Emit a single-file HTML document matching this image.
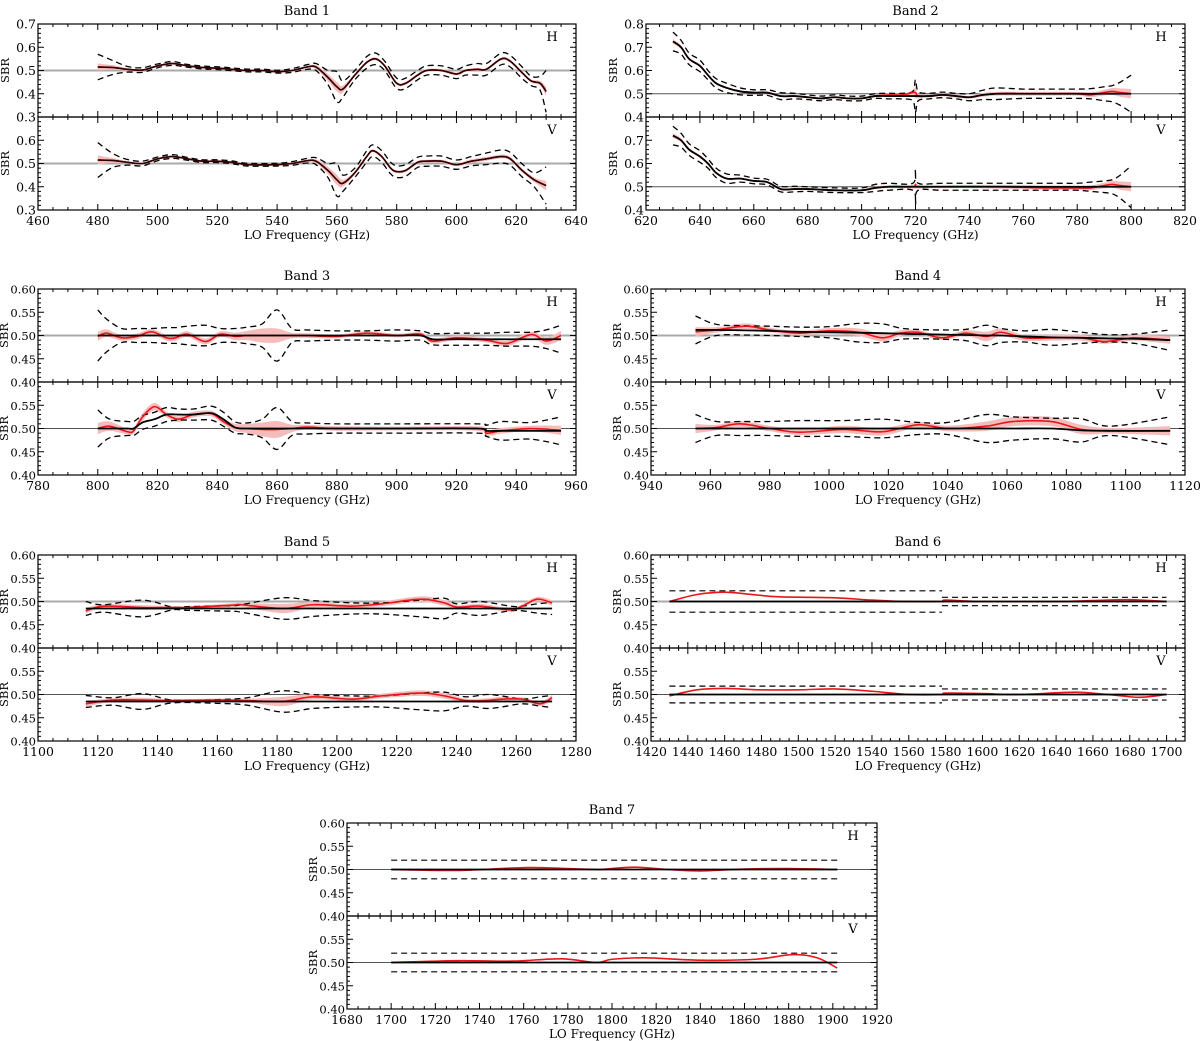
<!DOCTYPE html>
<html><head><meta charset="utf-8"><style>
html,body{margin:0;padding:0;background:#fff;}
svg{display:block;font-family:"DejaVu Serif","Liberation Serif",serif;}
</style></head><body>
<svg id="fig" width="1200" height="1041" viewBox="0 0 1200 1041" xmlns="http://www.w3.org/2000/svg"></svg>
<script>
// ---- Data (frequencies in GHz, SBR values) ----
const b1H_x=[480,485,490,495,500,505,510,515,520,525,530,535,540,545,550,553,557,560,562,566,570,573,576,580,583,587,590,595,600,603,607,610,615,618,622,625,628,630];
const b1H_k=[0.515,0.513,0.505,0.502,0.52,0.53,0.52,0.513,0.51,0.505,0.50,0.50,0.495,0.50,0.515,0.515,0.47,0.43,0.42,0.48,0.535,0.55,0.52,0.445,0.445,0.48,0.50,0.50,0.485,0.50,0.505,0.505,0.55,0.54,0.49,0.455,0.445,0.41];
const b1H_e=[0.055,0.03,0.012,0.01,0.008,0.008,0.006,0.006,0.006,0.006,0.006,0.006,0.006,0.008,0.01,0.015,0.03,0.065,0.035,0.02,0.025,0.025,0.02,0.022,0.022,0.02,0.02,0.02,0.02,0.02,0.025,0.025,0.025,0.025,0.025,0.02,0.03,0.09];
const b1H_s=[0.015,0.01,0.005,0.004,0.004,0.004,0.003,0.003,0.003,0.003,0.003,0.003,0.003,0.004,0.005,0.008,0.015,0.02,0.015,0.006,0.006,0.006,0.006,0.006,0.006,0.006,0.006,0.006,0.006,0.006,0.006,0.006,0.006,0.006,0.006,0.006,0.01,0.02];
const b1V_x=[480,485,490,495,500,505,510,515,520,525,530,540,545,550,553,557,560,562,566,570,572,575,578,580,583,587,590,595,600,605,610,615,618,622,626,630];
const b1V_k=[0.515,0.513,0.505,0.50,0.52,0.53,0.52,0.51,0.51,0.505,0.495,0.495,0.50,0.512,0.51,0.47,0.43,0.415,0.46,0.53,0.555,0.53,0.48,0.465,0.47,0.505,0.51,0.51,0.495,0.51,0.52,0.53,0.52,0.47,0.43,0.405];
const b1V_e=[0.075,0.03,0.012,0.01,0.008,0.008,0.006,0.006,0.006,0.006,0.006,0.006,0.008,0.01,0.015,0.03,0.07,0.035,0.02,0.025,0.025,0.025,0.025,0.025,0.025,0.022,0.022,0.022,0.02,0.02,0.025,0.028,0.028,0.028,0.03,0.08];
const b1V_s=[0.02,0.01,0.005,0.004,0.004,0.004,0.003,0.003,0.003,0.003,0.003,0.003,0.004,0.005,0.008,0.015,0.022,0.015,0.006,0.006,0.006,0.006,0.006,0.006,0.006,0.006,0.006,0.006,0.006,0.008,0.008,0.008,0.008,0.008,0.01,0.02];

const b2H_x=[630,633,636,640,643,646,650,655,660,665,670,675,680,685,690,695,700,705,710,715,719,720,721,725,730,735,740,745,750,760,770,780,785,790,793,796,800];
const b2H_k=[0.725,0.70,0.65,0.62,0.58,0.545,0.525,0.51,0.505,0.505,0.49,0.49,0.485,0.48,0.485,0.48,0.48,0.49,0.49,0.49,0.49,0.49,0.49,0.49,0.495,0.49,0.485,0.495,0.50,0.50,0.50,0.50,0.50,0.50,0.50,0.50,0.50];
const b2H_r=[0.725,0.70,0.65,0.62,0.58,0.545,0.525,0.51,0.505,0.505,0.49,0.49,0.485,0.48,0.485,0.48,0.48,0.49,0.495,0.495,0.505,0.505,0.49,0.49,0.495,0.49,0.485,0.495,0.50,0.50,0.50,0.50,0.495,0.505,0.51,0.505,0.50];
const b2H_e=[0.04,0.03,0.025,0.025,0.02,0.02,0.02,0.015,0.012,0.012,0.015,0.012,0.01,0.01,0.01,0.01,0.01,0.01,0.012,0.012,0.02,0.07,0.02,0.012,0.012,0.012,0.015,0.02,0.025,0.02,0.02,0.02,0.022,0.03,0.035,0.05,0.08];
const b2H_s=[0.01,0.008,0.006,0.006,0.005,0.005,0.004,0.004,0.004,0.004,0.004,0.004,0.004,0.004,0.004,0.004,0.004,0.005,0.006,0.006,0.01,0.025,0.01,0.006,0.006,0.006,0.006,0.008,0.008,0.008,0.008,0.008,0.01,0.012,0.015,0.018,0.02];
const b2V_x=[630,633,636,640,643,646,650,655,660,665,670,675,680,690,700,705,710,719,720,721,730,750,770,780,785,790,793,796,800];
const b2V_k=[0.72,0.70,0.66,0.63,0.60,0.56,0.535,0.535,0.525,0.52,0.49,0.49,0.49,0.485,0.485,0.495,0.50,0.50,0.50,0.50,0.50,0.50,0.50,0.50,0.50,0.50,0.50,0.50,0.50];
const b2V_r=[0.72,0.70,0.66,0.63,0.60,0.56,0.535,0.535,0.525,0.52,0.49,0.49,0.49,0.485,0.485,0.495,0.50,0.50,0.51,0.50,0.50,0.50,0.495,0.495,0.495,0.505,0.51,0.505,0.50];
const b2V_e=[0.04,0.03,0.025,0.025,0.02,0.02,0.02,0.015,0.012,0.012,0.012,0.012,0.01,0.01,0.01,0.015,0.015,0.015,0.075,0.015,0.015,0.015,0.015,0.015,0.02,0.025,0.03,0.05,0.09];
const b2V_s=[0.01,0.008,0.006,0.006,0.005,0.005,0.004,0.004,0.004,0.004,0.004,0.004,0.004,0.004,0.004,0.005,0.006,0.008,0.02,0.008,0.006,0.008,0.008,0.008,0.01,0.012,0.015,0.018,0.02];

const b3H_x=[800,803,808,813,818,823,826,830,836,841,846,850,855,860,865,870,880,890,900,908,912,920,930,937,945,950,955];
const b3H_k=[0.50,0.50,0.50,0.50,0.50,0.50,0.50,0.50,0.50,0.50,0.50,0.50,0.50,0.50,0.50,0.50,0.50,0.50,0.50,0.50,0.492,0.492,0.492,0.492,0.492,0.492,0.492];
const b3H_r=[0.498,0.505,0.495,0.498,0.508,0.495,0.495,0.503,0.487,0.503,0.498,0.50,0.50,0.50,0.50,0.50,0.498,0.505,0.50,0.503,0.488,0.495,0.49,0.483,0.502,0.488,0.50];
const b3H_e=[0.055,0.035,0.015,0.015,0.015,0.017,0.017,0.02,0.022,0.015,0.015,0.018,0.025,0.055,0.015,0.012,0.01,0.01,0.012,0.01,0.012,0.013,0.013,0.015,0.015,0.02,0.03];
const b3H_s=[0.01,0.008,0.006,0.006,0.006,0.006,0.006,0.006,0.006,0.006,0.008,0.01,0.015,0.015,0.006,0.005,0.004,0.004,0.004,0.004,0.005,0.005,0.005,0.006,0.006,0.008,0.01];
const b3V_x=[800,804,810,812,815,819,823,827,832,838,842,846,850,855,860,865,870,880,900,927,930,935,945,955];
const b3V_k=[0.50,0.50,0.50,0.50,0.513,0.52,0.53,0.53,0.53,0.533,0.52,0.502,0.50,0.50,0.50,0.50,0.50,0.50,0.50,0.50,0.495,0.495,0.495,0.495];
const b3V_r=[0.50,0.505,0.493,0.495,0.525,0.547,0.53,0.52,0.53,0.532,0.515,0.502,0.50,0.498,0.498,0.50,0.503,0.50,0.50,0.50,0.49,0.495,0.50,0.496];
const b3V_e=[0.04,0.02,0.015,0.015,0.015,0.015,0.015,0.012,0.012,0.015,0.015,0.012,0.012,0.02,0.045,0.015,0.012,0.01,0.01,0.01,0.012,0.02,0.018,0.03];
const b3V_s=[0.012,0.01,0.006,0.006,0.008,0.008,0.006,0.006,0.006,0.006,0.006,0.008,0.01,0.015,0.018,0.008,0.005,0.005,0.004,0.005,0.006,0.006,0.006,0.01];

const b4H_x=[955,962,972,980,990,1000,1010,1018,1024,1030,1038,1046,1053,1058,1066,1075,1085,1093,1103,1115];
const b4H_k=[0.512,0.512,0.511,0.51,0.508,0.507,0.506,0.505,0.504,0.503,0.502,0.501,0.50,0.50,0.498,0.496,0.495,0.494,0.493,0.49];
const b4H_r=[0.508,0.512,0.52,0.512,0.505,0.51,0.507,0.495,0.505,0.507,0.495,0.505,0.498,0.507,0.495,0.495,0.495,0.487,0.495,0.49];
const b4H_e=[0.03,0.012,0.01,0.01,0.01,0.012,0.02,0.02,0.012,0.01,0.01,0.012,0.022,0.015,0.012,0.017,0.012,0.008,0.01,0.022];
const b4H_s=[0.01,0.006,0.006,0.005,0.005,0.006,0.008,0.008,0.006,0.005,0.005,0.006,0.01,0.008,0.006,0.006,0.006,0.005,0.006,0.008];
const b4V_x=[955,962,970,980,990,1005,1018,1030,1040,1053,1062,1075,1085,1095,1115];
const b4V_k=[0.50,0.50,0.50,0.50,0.50,0.50,0.50,0.50,0.50,0.50,0.50,0.50,0.496,0.495,0.495];
const b4V_r=[0.50,0.502,0.51,0.50,0.492,0.498,0.493,0.508,0.50,0.505,0.515,0.515,0.498,0.495,0.495];
const b4V_e=[0.03,0.015,0.015,0.015,0.017,0.017,0.02,0.013,0.013,0.03,0.025,0.022,0.025,0.01,0.03];
const b4V_s=[0.01,0.006,0.006,0.006,0.006,0.008,0.008,0.006,0.006,0.01,0.01,0.01,0.01,0.006,0.01];

const b5H_x=[1116,1122,1135,1145,1150,1165,1168,1182,1192,1205,1215,1228,1236,1240,1248,1258,1262,1267,1272];
const b5H_k=[0.485,0.485,0.485,0.485,0.485,0.485,0.485,0.485,0.485,0.485,0.485,0.485,0.485,0.485,0.485,0.485,0.485,0.485,0.485];
const b5H_r=[0.48,0.49,0.487,0.487,0.487,0.492,0.493,0.485,0.493,0.49,0.495,0.505,0.497,0.488,0.49,0.482,0.49,0.505,0.497];
const b5H_e=[0.015,0.008,0.018,0.003,0.004,0.006,0.008,0.023,0.017,0.012,0.012,0.018,0.022,0.01,0.015,0.005,0.005,0.01,0.013];
const b5H_s=[0.006,0.004,0.005,0.003,0.003,0.004,0.004,0.01,0.006,0.004,0.005,0.006,0.006,0.004,0.005,0.004,0.004,0.005,0.006];
const b5V_x=[1116,1125,1135,1145,1160,1170,1182,1192,1205,1215,1228,1236,1243,1250,1255,1262,1268,1272];
const b5V_k=[0.485,0.485,0.485,0.485,0.485,0.485,0.485,0.485,0.485,0.485,0.485,0.485,0.485,0.485,0.485,0.485,0.485,0.485];
const b5V_r=[0.48,0.488,0.488,0.487,0.488,0.487,0.485,0.495,0.49,0.497,0.503,0.497,0.487,0.487,0.49,0.49,0.48,0.493];
const b5V_e=[0.013,0.008,0.017,0.003,0.004,0.008,0.023,0.015,0.012,0.012,0.018,0.02,0.01,0.015,0.012,0.005,0.01,0.013];
const b5V_s=[0.006,0.004,0.005,0.003,0.003,0.004,0.01,0.006,0.004,0.005,0.006,0.006,0.004,0.005,0.005,0.004,0.005,0.006];

const b6H_x=[1430,1445,1460,1475,1490,1520,1540,1560,1578,1580,1600,1640,1660,1680,1700];
const b6H_k=[0.50,0.50,0.50,0.50,0.50,0.50,0.50,0.50,0.50,0.50,0.50,0.50,0.50,0.50,0.50];
const b6H_r=[0.50,0.515,0.52,0.515,0.51,0.508,0.503,0.50,0.50,0.503,0.50,0.50,0.502,0.504,0.50];
const b6H_lim=[[1430,1578,0.477,0.523],[1578,1700,0.491,0.509]];
const b6V_x=[1430,1445,1460,1480,1500,1520,1540,1560,1578,1580,1600,1620,1650,1668,1685,1700];
const b6V_k=[0.50,0.50,0.50,0.50,0.50,0.50,0.50,0.50,0.50,0.50,0.50,0.50,0.50,0.50,0.50,0.50];
const b6V_r=[0.497,0.51,0.513,0.51,0.51,0.512,0.507,0.50,0.50,0.503,0.502,0.50,0.505,0.50,0.494,0.50];
const b6V_lim=[[1430,1578,0.482,0.518],[1578,1700,0.488,0.512]];

const b7H_x=[1700,1730,1760,1780,1793,1795,1810,1825,1840,1860,1880,1902];
const b7H_k=[0.50,0.50,0.50,0.50,0.50,0.50,0.50,0.50,0.50,0.50,0.50,0.50];
const b7H_r=[0.50,0.498,0.504,0.502,0.50,0.50,0.505,0.50,0.497,0.501,0.502,0.50];
const b7H_lim=[[1700,1902,0.48,0.52]];
const b7V_x=[1700,1730,1755,1777,1793,1800,1815,1840,1865,1882,1893,1902];
const b7V_k=[0.50,0.50,0.50,0.50,0.50,0.50,0.50,0.50,0.50,0.50,0.50,0.50];
const b7V_r=[0.50,0.504,0.503,0.508,0.50,0.507,0.51,0.505,0.507,0.517,0.51,0.488];
const b7V_lim=[[1700,1902,0.48,0.52]];

const bandTitles=["Band 1","Band 2","Band 3","Band 4","Band 5","Band 6","Band 7"];

// ---- Rendering ----
const NS="http://www.w3.org/2000/svg";
const svg=document.getElementById('fig');
function mk(tag,attrs,parent){const e=document.createElementNS(NS,tag);for(const k in attrs)e.setAttribute(k,attrs[k]);(parent||svg).appendChild(e);return e;}
function crPath(pts){
  if(pts.length<2)return '';
  let d='M'+pts[0][0].toFixed(2)+','+pts[0][1].toFixed(2);
  for(let i=0;i<pts.length-1;i++){
    const p0=pts[i-1]||pts[i],p1=pts[i],p2=pts[i+1],p3=pts[i+2]||pts[i+1];
    const c1=[p1[0]+(p2[0]-p0[0])/6,p1[1]+(p2[1]-p0[1])/6];
    const c2=[p2[0]-(p3[0]-p1[0])/6,p2[1]-(p3[1]-p1[1])/6];
    d+=' C'+c1[0].toFixed(2)+','+c1[1].toFixed(2)+' '+c2[0].toFixed(2)+','+c2[1].toFixed(2)+' '+p2[0].toFixed(2)+','+p2[1].toFixed(2);
  }
  return d;
}
let clipId=0;
function panel(g,box,xr,yr,pd,opt){
  const sx=v=>box.x0+(v-xr[0])/(xr[1]-xr[0])*(box.x1-box.x0);
  const sy=v=>box.y1-(v-yr[0])/(yr[1]-yr[0])*(box.y1-box.y0);
  const id='c'+(clipId++);
  const cp=mk('clipPath',{id:id},g);
  mk('rect',{x:box.x0,y:box.y0,width:box.x1-box.x0,height:box.y1-box.y0},cp);
  const pg=mk('g',{'clip-path':'url(#'+id+')'},g);
  
  
  const ref=mk('line',{x1:box.x0,x2:box.x1,y1:sy(0.5),y2:sy(0.5),stroke:opt.refLight?'#aaaaaa':'#555',
    'stroke-width':opt.refLight?2:1},pg);
  
  
  const r=pd.r||pd.k;
  if(pd.s){
    const up=pd.x.map((x,i)=>[sx(x),sy(r[i]+pd.s[i])]);
    const lo=pd.x.map((x,i)=>[sx(x),sy(r[i]-pd.s[i])]).reverse();
    const sh=mk('path',{d:crPath(up)+' L'+crPath(lo).slice(1)+' Z',fill:'#f6bcbc',stroke:'none'},pg);
    
    
  }
  if(pd.e){
    [1,-1].forEach(sg=>{
      const pts=pd.x.map((x,i)=>[sx(x),sy(pd.k[i]+sg*pd.e[i])]);
      const p=mk('path',{d:crPath(pts),fill:'none',stroke:'#000','stroke-width':1.3,'stroke-dasharray':'6,4'},pg);
      
      
    });
  }
  if(pd.lim){
    pd.lim.forEach(L=>{
      [L[2],L[3]].forEach(v=>{
        const p=mk('line',{x1:sx(L[0]),x2:sx(L[1]),y1:sy(v),y2:sy(v),stroke:'#000','stroke-width':1.2,'stroke-dasharray':'6,4'},pg);
        
        
      });
    });
  }
  const rl=mk('path',{d:crPath(pd.x.map((x,i)=>[sx(x),sy(r[i])])),fill:'none',stroke:opt.dark?'#8b0000':'#e8151b','stroke-width':1.6},pg);
  
  
  const kl=mk('path',{d:crPath(pd.x.map((x,i)=>[sx(x),sy(pd.k[i])])),fill:'none',stroke:opt.dark?'#2a0000':'#000','stroke-width':opt.dark?1.5:1.8},pg);
  
  
  const fr=mk('rect',{x:box.x0,y:box.y0,width:box.x1-box.x0,height:box.y1-box.y0,fill:'none',stroke:'#000','stroke-width':1.2},g);
  
  
  for(let v=xr[0];v<=xr[1]+1e-9;v+=opt.xminor){
    const m=(v-xr[0])%opt.xmajor;
    const maj=Math.abs(m)<1e-6||Math.abs(m-opt.xmajor)<1e-6;
    const L=maj?6:3,X=sx(v);
    mk('line',{x1:X,x2:X,y1:box.y1,y2:box.y1-L,stroke:'#000','stroke-width':1},g);
    mk('line',{x1:X,x2:X,y1:box.y0,y2:box.y0+L,stroke:'#000','stroke-width':1},g);
  }
  for(let i=0;;i++){
    const v=yr[0]+i*opt.yminor; if(v>yr[1]+1e-9)break;
    const maj=Math.abs(Math.round(v/opt.ymajor)*opt.ymajor-v)<1e-6;
    const L=maj?6:3,Y=sy(v);
    mk('line',{x1:box.x0,x2:box.x0+L,y1:Y,y2:Y,stroke:'#000','stroke-width':1},g);
    mk('line',{x1:box.x1,x2:box.x1-L,y1:Y,y2:Y,stroke:'#000','stroke-width':1},g);
  }
  opt.ylabels.forEach(v=>{
    const t=mk('text',{x:box.x0-2,y:sy(v)+4.5,'text-anchor':'end','font-size':opt.yfs,fill:'#000'},g);
    t.textContent=v.toFixed(opt.ydec);
    
    
  });
  const lx=box.x0-opt.ylabOff,ly=(box.y0+box.y1)/2;
  const yl=mk('text',{x:lx,y:ly,'text-anchor':'middle','font-size':11.5,
    transform:'rotate(-90 '+lx+' '+ly+')'},g);
  yl.textContent='SBR';
  
  
  const pl=mk('text',{x:box.x1-24,y:box.y0+17,'text-anchor':'middle','font-size':13},g);
  pl.textContent=opt.pol;
  
  
  return sx;
}
function band(idx,x0,x1,y0,xr,yr,H,V,o){
  const g=mk('g',{});
  
  
  const ym=y0+93,yb=y0+186;
  const base={xmajor:20,xminor:5,ymajor:o.ymajor,yminor:o.yminor,ydec:o.ydec,ylabOff:o.ylabOff,yfs:o.yfs};
  panel(g,{x0,x1,y0:y0,y1:ym},xr,yr,H,Object.assign({},base,{name:'h-panel',pol:'H',ylabels:o.hlabels,refLight:o.hLight,dark:o.dark}));
  const sx=panel(g,{x0,x1,y0:ym,y1:yb},xr,yr,V,Object.assign({},base,{name:'v-panel',pol:'V',ylabels:o.vlabels,refLight:o.vLight,dark:o.dark}));
  for(let v=xr[0];v<=xr[1];v+=20){
    const t=mk('text',{x:sx(v),y:yb+15,'text-anchor':'middle','font-size':12.5},g);
    t.textContent=v;
    
    
  }
  const xl=mk('text',{x:(x0+x1)/2,y:yb+29,'text-anchor':'middle','font-size':12},g);
  xl.textContent='LO Frequency (GHz)';
  
  
  const tt=mk('text',{x:(x0+x1)/2,y:y0-9,'text-anchor':'middle','font-size':13},g);
  tt.textContent=bandTitles[idx];
  
  
}
const big={ymajor:0.1,yminor:0.02,ydec:1,ylabOff:29,yfs:12.5};
const small={ymajor:0.05,yminor:0.01,ydec:2,ylabOff:30,yfs:11.5,hlabels:[0.40,0.45,0.50,0.55,0.60],vlabels:[0.40,0.45,0.50,0.55]};
band(0,38,576,24,[460,640],[0.3,0.7],{x:b1H_x,k:b1H_k,e:b1H_e,s:b1H_s},{x:b1V_x,k:b1V_k,e:b1V_e,s:b1V_s},
  Object.assign({},big,{hlabels:[0.3,0.4,0.5,0.6,0.7],vlabels:[0.3,0.4,0.5,0.6],hLight:true,vLight:true,dark:true}));
band(1,646,1185,24,[620,820],[0.4,0.8],{x:b2H_x,k:b2H_k,r:b2H_r,e:b2H_e,s:b2H_s},{x:b2V_x,k:b2V_k,r:b2V_r,e:b2V_e,s:b2V_s},
  Object.assign({},big,{hlabels:[0.4,0.5,0.6,0.7,0.8],vlabels:[0.4,0.5,0.6,0.7],hLight:false,vLight:false,dark:false}));
band(2,38,576,289,[780,960],[0.4,0.6],{x:b3H_x,k:b3H_k,r:b3H_r,e:b3H_e,s:b3H_s},{x:b3V_x,k:b3V_k,r:b3V_r,e:b3V_e,s:b3V_s},
  Object.assign({},small,{hLight:true,vLight:false}));
band(3,651,1185,289,[940,1120],[0.4,0.6],{x:b4H_x,k:b4H_k,r:b4H_r,e:b4H_e,s:b4H_s},{x:b4V_x,k:b4V_k,r:b4V_r,e:b4V_e,s:b4V_s},
  Object.assign({},small,{hLight:true,vLight:false}));
band(4,38,576,555,[1100,1280],[0.4,0.6],{x:b5H_x,k:b5H_k,r:b5H_r,e:b5H_e,s:b5H_s},{x:b5V_x,k:b5V_k,r:b5V_r,e:b5V_e,s:b5V_s},
  Object.assign({},small,{hLight:true,vLight:false}));
band(5,651,1185,555,[1420,1710],[0.4,0.6],{x:b6H_x,k:b6H_k,r:b6H_r,lim:b6H_lim},{x:b6V_x,k:b6V_k,r:b6V_r,lim:b6V_lim},
  Object.assign({},small,{hLight:true,vLight:false}));
band(6,347,877,823,[1680,1920],[0.4,0.6],{x:b7H_x,k:b7H_k,r:b7H_r,lim:b7H_lim},{x:b7V_x,k:b7V_k,r:b7V_r,lim:b7V_lim},
  Object.assign({},small,{hLight:false,vLight:false}));
</script>
</body></html>
